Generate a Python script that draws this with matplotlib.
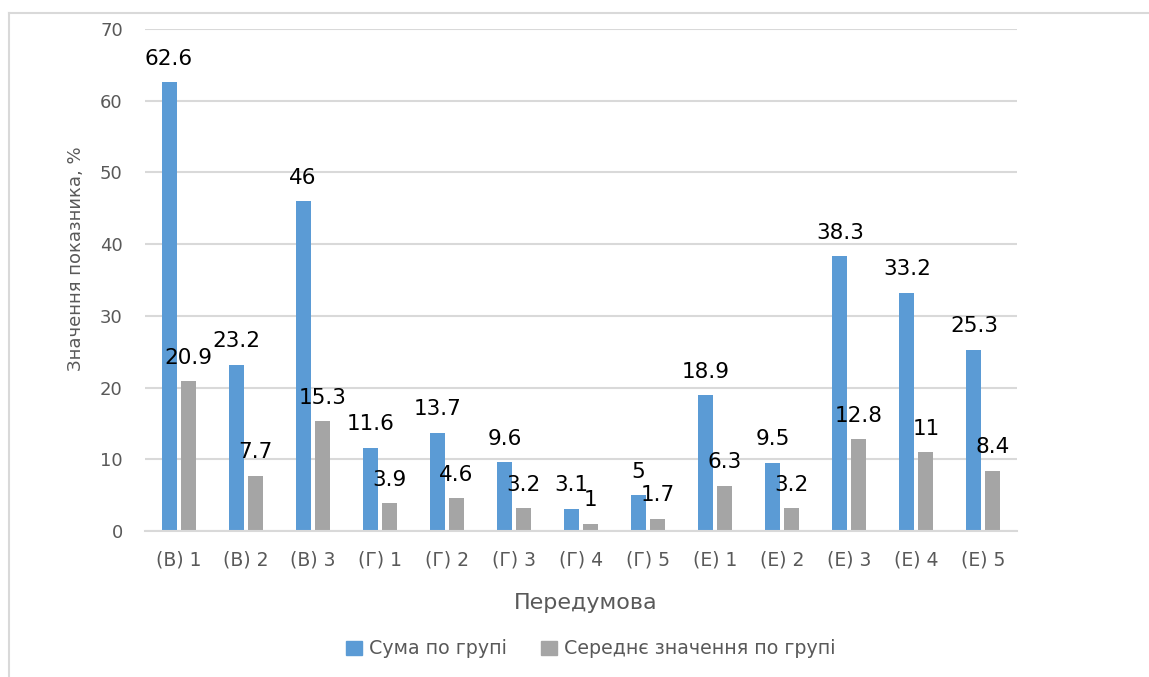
import matplotlib
matplotlib.use("Agg")
import matplotlib.pyplot as plt
import numpy as np
from matplotlib.patches import Patch
from matplotlib.lines import Line2D

categories = ["(В) 1", "(В) 2", "(В) 3", "(Г) 1", "(Г) 2", "(Г) 3", "(Г) 4",
              "(Г) 5", "(Е) 1", "(Е) 2", "(Е) 3", "(Е) 4", "(Е) 5"]
sum_values = [62.6, 23.2, 46, 11.6, 13.7, 9.6, 3.1, 5, 18.9, 9.5, 38.3, 33.2, 25.3]
mean_values = [20.9, 7.7, 15.3, 3.9, 4.6, 3.2, 1, 1.7, 6.3, 3.2, 12.8, 11, 8.4]
series_names = ["Сума по групі", "Середнє значення по групі"]
y_label = "Значення показника, %"
x_label = "Передумова"

plt.rcParams['font.family'] = ['DejaVu Sans']

W, H = 1149, 677
fig = plt.figure(figsize=(W / 100, H / 100), dpi=100)
ax = fig.add_axes([145 / W, 1 - 531 / H, (1017 - 145) / W, (531 - 29) / H])

blue = "#5B9BD5"
gray = "#A5A5A5"
grid_c = "#D9D9D9"
txt_c = "#595959"

x = np.arange(len(categories))
bw = 0.224
off = 0.142
b1 = ax.bar(x - off, sum_values, bw, color=blue, zorder=3)
b2 = ax.bar(x + off, mean_values, bw, color=gray, zorder=3)

for bars, vals in ((b1, sum_values), (b2, mean_values)):
    for rect, v in zip(bars, vals):
        ax.annotate(f"{v:g}", (rect.get_x() + rect.get_width() / 2, v),
                    xytext=(0, 12.6), textcoords="offset points",
                    ha="center", va="baseline", fontsize=15.5, color="black",
                    zorder=5)

ax.set_xlim(-0.5, len(categories) - 0.5)
ax.set_ylim(0, 70)
ax.set_yticks(range(0, 71, 10))
ax.set_xticks(x)
ax.set_xticklabels(categories)
ax.tick_params(axis="y", length=0, pad=16, labelsize=13, labelcolor=txt_c)
ax.tick_params(axis="x", length=0, pad=14, labelsize=13.5, labelcolor=txt_c)
ax.grid(axis="y", color=grid_c, linewidth=1.5, zorder=0)
for s in ("top", "right", "left"):
    ax.spines[s].set_visible(False)
ax.spines["bottom"].set_color(grid_c)
ax.spines["bottom"].set_linewidth(1.5)
ax.spines["bottom"].set_zorder(4)

fig.text(76 / W, 1 - 259 / H, y_label, rotation=90, ha="center", va="center",
         fontsize=13, color=txt_c)
fig.text(586 / W, 1 - 603 / H, x_label, ha="center", va="center",
         fontsize=16, color=txt_c)

handles = [Patch(color=blue), Patch(color=gray)]
fig.legend(handles, series_names, loc="center", ncol=2,
           bbox_to_anchor=(591 / W, 1 - 649 / H), frameon=False,
           fontsize=13.7, labelcolor=txt_c, handlelength=0.8, handleheight=0.8,
           handletextpad=0.4, columnspacing=1.8)

# chart-area border (top and left edges visible)
fig.add_artist(Line2D([9 / W, 1.0], [1 - 13 / H, 1 - 13 / H], transform=fig.transFigure,
                      color=grid_c, linewidth=1.5))
fig.add_artist(Line2D([9 / W, 9 / W], [0.0, 1 - 13 / H], transform=fig.transFigure,
                      color=grid_c, linewidth=1.5))

fig.savefig("out.png", dpi=100)
